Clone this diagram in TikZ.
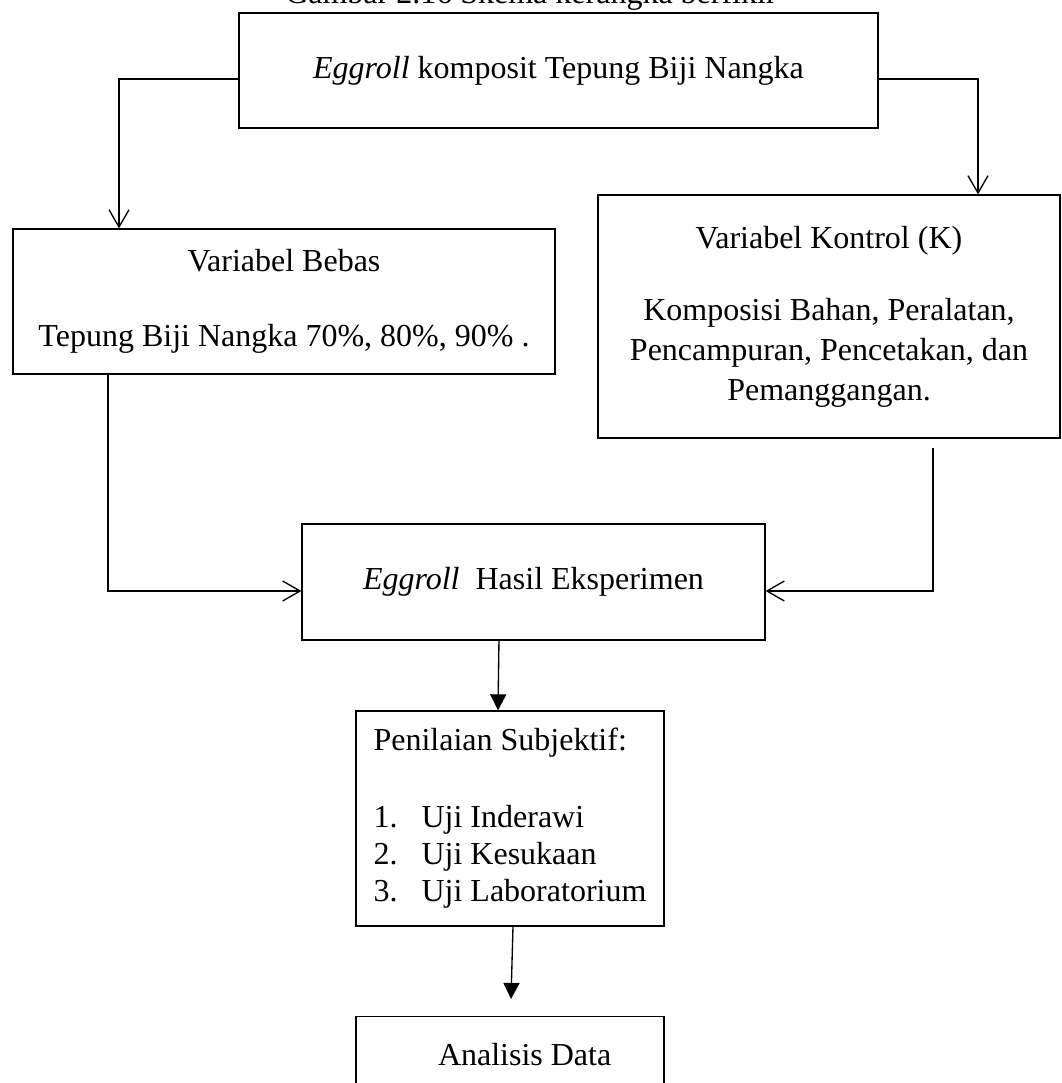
\documentclass[tikz,border=0pt]{standalone}
\usepackage{fontspec}
\setmainfont{Liberation Serif}
\usetikzlibrary{arrows.meta}

\begin{document}
\begin{tikzpicture}[x=0.75pt,y=-0.75pt,
  kotak/.style={draw,line width=1pt,rectangle,inner sep=0pt,font=\fontsize{24}{28.8}\selectfont},
  panah/.style={line width=1pt,-{Straight Barb[length=13pt,width=15pt]}},
  panahisi/.style={line width=1pt,-{Triangle[length=12pt,width=12pt]}}]
\useasboundingbox (0,0) rectangle (1062,1083);

% judul gambar, terpotong
\node[anchor=base west,inner sep=0pt,font=\fontsize{24}{28.8}\selectfont] (judul) at (285,3) {Gambar 2.16 Skema kerangka berfikir};

% kotak-kotak
\node[kotak,minimum width=479.25pt,minimum height=86.25pt] (tema) at (558.5,70.5) {\textit{Eggroll} komposit Tepung Biji Nangka};
\node[kotak,minimum width=406.5pt,minimum height=108.75pt,align=center] (bebas) at (284,301.5) {Variabel Bebas\\[27.45pt]Tepung Biji Nangka 70\%, 80\%, 90\% .};
\node[kotak,minimum width=346.5pt,minimum height=182.25pt,align=center,font=\fontsize{24}{30}\selectfont] (kontrol) at (829,316.5) {Variabel Kontrol (K)\\[24pt]Komposisi Bahan, Peralatan,\\Pencampuran, Pencetakan, dan\\Pemanggangan.};
\node[kotak,minimum width=347.25pt,minimum height=87pt] (hasil) at (533.5,582) {\textit{Eggroll}\ \ Hasil Eksperimen};
\node[kotak,minimum width=231pt,minimum height=161.25pt,align=left,font=\fontsize{24}{27.75}\selectfont] (nilai) at (510,818.5) {Penilaian Subjektif:\\[30pt]\makebox[36pt][l]{1.}Uji Inderawi\\\makebox[36pt][l]{2.}Uji Kesukaan\\\makebox[36pt][l]{3.}Uji Laboratorium};
\node[kotak,anchor=north,minimum width=231pt,inner ysep=20pt,text depth=30pt] (analisis) at (510,1016) {\hspace*{22pt}Analisis Data};

% panah dari judul
\draw[panah] ([yshift=-6.4pt]tema.west) -| ([xshift=-123.75pt]bebas.north);
\draw[panah] ([yshift=-6.4pt]tema.east) -| ([xshift=111.75pt]kontrol.north);

% panah ke hasil eksperimen
\draw[panah] ([xshift=-132pt]bebas.south) |- ([yshift=-6.75pt]hasil.west);
\draw[panah] ([xshift=78pt,yshift=-6.75pt]kontrol.south) |- ([yshift=-6.75pt]hasil.east);

% panah ke bawah
\draw[panahisi] ([xshift=-25.9pt]hasil.south) -- ([xshift=-9pt]nilai.north);
\draw[panahisi] ([xshift=2.25pt]nilai.south) -- ([xshift=0.75pt,yshift=12.75pt]analisis.north);
\end{tikzpicture}
\end{document}
